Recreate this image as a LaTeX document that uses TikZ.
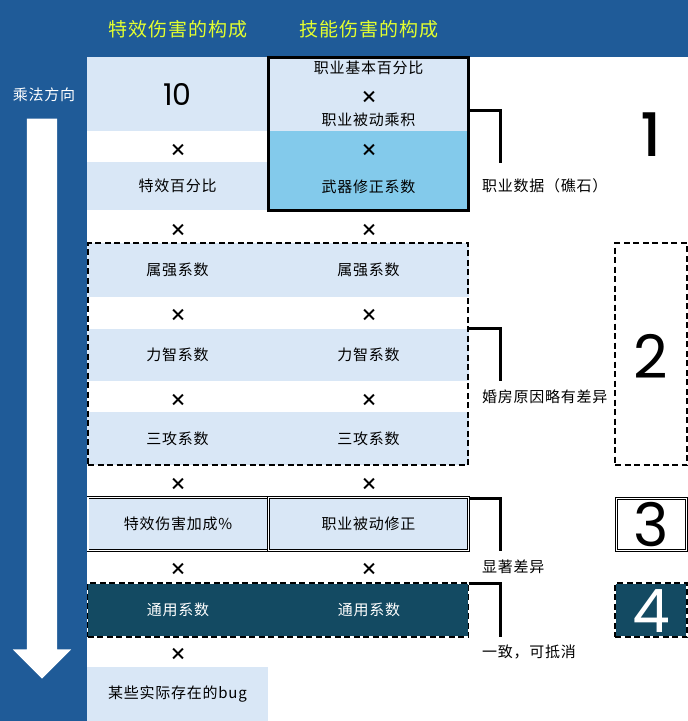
\documentclass[tikz,border=0pt]{standalone}
\usepackage{fontspec}
\usepackage{xcolor}
\setmainfont[LetterSpace=5]{Noto Sans CJK SC}
\newfontfamily\numfont{Poppins}
\newfontfamily\numheavy{Poppins Medium}
\usetikzlibrary{positioning,calc,shapes.arrows}
\definecolor{bandblue}{HTML}{1F5B98}
\definecolor{celllight}{HTML}{D9E7F6}
\definecolor{cellsky}{HTML}{83CAEB}
\definecolor{celldark}{HTML}{134A62}
\definecolor{headyellow}{HTML}{E4FF2E}
\tikzset{cell/.style={minimum width=#1, inner sep=0, outer sep=0, align=center, font=\fontsize{15}{16}\selectfont}}
\tikzset{lightcell/.style args={#1/#2}{cell=#1, minimum height=#2, fill=celllight}}
\tikzset{darkcell/.style args={#1/#2}{cell=#1, minimum height=#2, text=white}}
\tikzset{mul/.style={inner sep=0, font=\bfseries\fontsize{17}{17}\selectfont}}
\tikzset{head/.style={inner sep=0, text=headyellow, font=\fontsize{19}{20}\selectfont}}
\tikzset{note/.style={inner sep=0, anchor=west, font=\fontsize{15}{16}\selectfont}}
\tikzset{brk/.style={draw, line width=3pt}}
\tikzset{dashbox/.style args={#1/#2}{minimum width=#1, minimum height=#2, inner sep=0, outer sep=0, draw, line width=1.5pt, dash pattern=on 6pt off 3.5pt}}
\tikzset{dblbox/.style args={#1/#2}{minimum width=#1, minimum height=#2, inner sep=0, outer sep=0, draw, line width=.7pt, double, double distance=1.4pt}}
\tikzset{thinbox/.style args={#1/#2}{minimum width=#1, minimum height=#2, inner sep=0, outer sep=0, draw, line width=.9pt}}
\tikzset{bignum/.style={inner sep=0, font=\numfont\fontsize{60}{60}\selectfont}}
\begin{document}
\begin{tikzpicture}[x=1pt, y=-1pt]
    \useasboundingbox (0,0) rectangle (688,721);
    \fill[white] (0,0) rectangle (688,721);
    \fill[bandblue] (0,0) rectangle (688,57);
    \fill[bandblue] (0,0) rectangle (87,721);
    %
    \node[head] (headA) at (178,29) {特效伤害的构成};
    \node[head] (headB) at (369,29) {技能伤害的构成};
    \node[inner sep=0, text=white, font=\fontsize{15}{16}\selectfont] (dirlabel) at (44,95) {乘法方向};
    \node[single arrow, fill=white, inner xsep=0, inner ysep=15pt, outer sep=0, rotate=-90,
        minimum height=560pt, single arrow head extend=14pt,
        single arrow head indent=0pt] (dirarrow) at (42,391) {};
    %
    % first column
    \node[lightcell=181pt/74pt, font=\numfont\fontsize{30}{30}\selectfont] (ten) at (177.5,94) {10};
    \node[mul] (xa1) at (178,150) {×};
    \node[lightcell=181pt/48pt] (pct) at (177.5,186) {特效百分比};
    \node[mul] (xa2) at (178,230) {×};
    \node[lightcell=181pt/54pt] (elemA) at (177.5,270) {属强系数};
    \node[mul] (xa3) at (178,315) {×};
    \node[lightcell=181pt/52pt] (statA) at (177.5,355) {力智系数};
    \node[mul] (xa4) at (178,400) {×};
    \node[lightcell=181pt/53pt] (atkA) at (177.5,438.5) {三攻系数};
    \node[mul] (xa5) at (178,484) {×};
    \node[lightcell=181pt/54pt] (bonus) at (178,524) {特效伤害加成\%};
    \node[mul] (xa6) at (178,569) {×};
    \node[mul] (xa7) at (178,654) {×};
    \node[lightcell=181pt/54pt] (bug) at (177.5,694) {某些实际存在的bug};
    %
    % second column
    \node[lightcell=201pt/74pt] (classtop) at (368.5,94) {};
    \node[cell=201pt, minimum height=79pt, fill=cellsky] (weapon) at (368.5,170.5) {};
    \node[cell=201pt, inner sep=0] (basepct) at (368.5,68) {职业基本百分比};
    \node[mul] (xb0) at (369,97) {×};
    \node[cell=201pt] (passive) at (368.5,120) {职业被动乘积};
    \node[mul] (xb1) at (369,150) {×};
    \node[cell=201pt] (weapontxt) at (368.5,187) {武器修正系数};
    \node[draw, line width=3pt, inner sep=0, outer sep=0, minimum width=200pt, minimum height=153pt] (frameone) at (368.5,134) {};
    \node[mul] (xb2) at (369,230) {×};
    \node[lightcell=201pt/54pt] (elemB) at (368.5,270) {属强系数};
    \node[mul] (xb3) at (369,315) {×};
    \node[lightcell=201pt/52pt] (statB) at (368.5,355) {力智系数};
    \node[mul] (xb4) at (369,400) {×};
    \node[lightcell=201pt/53pt] (atkB) at (368.5,438.5) {三攻系数};
    \node[mul] (xb5) at (369,484) {×};
    \node[lightcell=200pt/54pt] (classfix) at (368.5,524) {职业被动修正};
    \node[mul] (xb6) at (369,569) {×};
    %
    % boxes over the rows
    \node[dashbox=380pt/222pt] (frametwo) at (278,354) {};
    \node[dblbox=180pt/53pt] (framebonus) at (178,524) {};
    \node[dblbox=200pt/53pt] (framefix) at (368.5,524) {};
    \node[minimum width=381pt, minimum height=54pt, inner sep=0, outer sep=0, fill=celldark, draw=white, line width=1.4pt] (darkrow) at (278,610) {};
    \node[dashbox=381pt/54pt] (framefour) at (278,610) {};
    \node[darkcell=181pt/54pt] (commonA) at (178,610) {通用系数};
    \node[darkcell=201pt/54pt] (commonB) at (369,610) {通用系数};
    %
    % brackets and their notes
    \coordinate (endone) at (500,163);
    \coordinate (endtwo) at (500,381);
    \coordinate (endthree) at (500,551);
    \coordinate (endfour) at (500,637);
    \draw[brk] ([yshift=24pt]frameone.east) -| (endone);
    \draw[brk] ([yshift=26pt]frametwo.east) -| (endtwo);
    \draw[brk] ([yshift=-.7pt]framefix.north east) -| (endthree);
    \draw[brk] ([yshift=-.7pt]framefour.north east) -| (endfour);
    \node[note] (noteone) at (482,186) {职业数据（礁石）};
    \node[note] (notetwo) at (482,397) {婚房原因略有差异};
    \node[note] (notethree) at (482,567) {显著差异};
    \node[note] (notefour) at (482,652) {一致，可抵消};
    %
    % numbers on the right
    \node[bignum, font=\numheavy\fontsize{60}{60}\selectfont] (numone) at (651,135) {1};
    \node[dashbox=72pt/222pt] (boxtwo) at (651,354) {};
    \node[bignum] (numtwo) at (651,356) {2};
    \node[thinbox=72pt/54pt] (boxthree) at (651,524) {};
    \node[thinbox=68pt/50pt] (innerthree) at (651,524) {};
    \node[bignum] (numthree) at (651,525) {3};
    \node[minimum width=72pt, minimum height=54pt, inner sep=0, outer sep=0, fill=celldark, draw=white, line width=1.4pt] (boxfourbg) at (651,610) {};
    \node[dashbox=72pt/54pt] (boxfour) at (651,610) {};
    \node[bignum, text=white] (numfour) at (651,611) {4};
\end{tikzpicture}
\end{document}
